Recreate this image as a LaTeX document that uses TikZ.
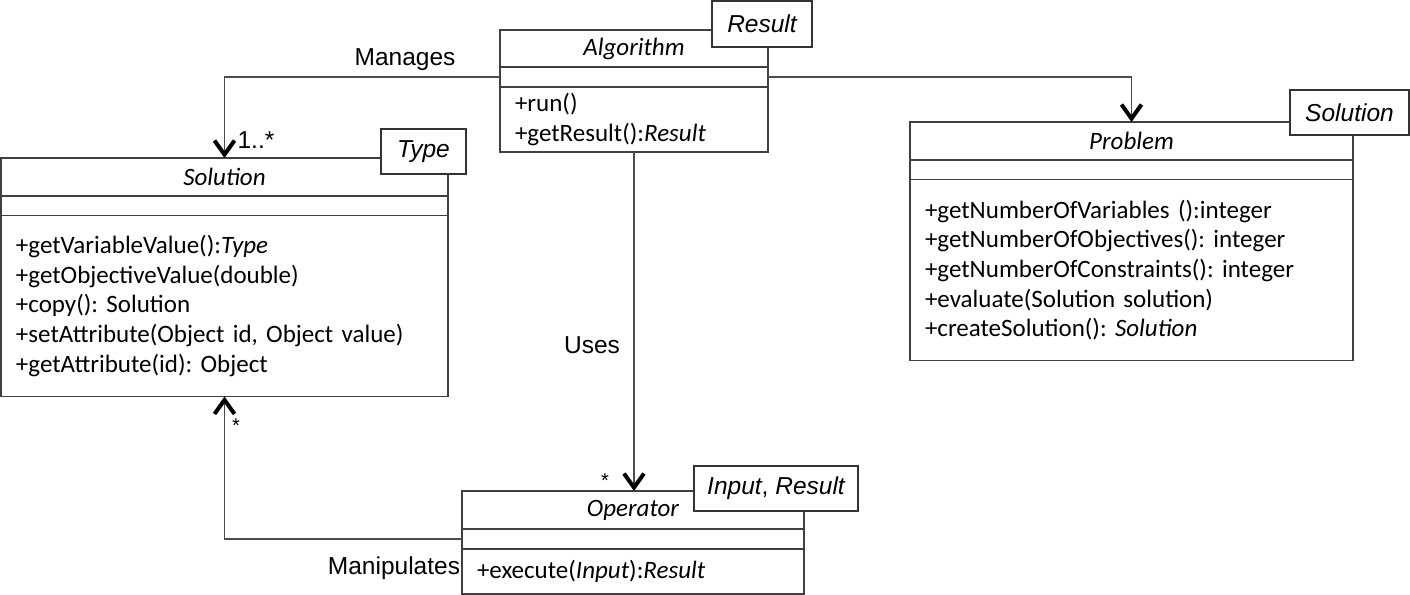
\documentclass[tikz,border=0pt]{standalone}
\usepackage{fontspec}
\setmainfont{Carlito}
\newfontfamily\lsans{Liberation Sans}
\usetikzlibrary{positioning,arrows.meta}
\frenchspacing
\tikzset{
    cname/.style={draw=black!75, line width=0.75pt, inner sep=0pt, outer sep=0pt,
        minimum height=19pt, font=\fontsize{12.5}{14}\selectfont\itshape},
    catt/.style={draw=black!75, line width=0.75pt, inner sep=0pt, outer sep=0pt,
        minimum height=9.75pt},
    cops/.style={draw=black!75, line width=0.75pt, inner xsep=7.5pt, inner ysep=0pt,
        outer sep=0pt, align=left, font=\fontsize{12.5}{14.8}\selectfont},
    tmpl/.style={draw=black!80, fill=white, line width=0.75pt, inner sep=0pt,
        minimum height=22.5pt, font=\lsans\fontsize{12.25}{14}\selectfont\itshape},
    lbl/.style={inner sep=0pt, font=\lsans\fontsize{12.25}{14}\selectfont},
    assoc/.style={draw=black!70, line width=0.6pt,
        -{Straight Barb[length=7pt,width=10pt,line width=2pt,color=black]}}
}
\begin{document}
\begin{tikzpicture}[x=0.5pt,y=-0.5pt]
    \useasboundingbox (0,0) rectangle (1410,595);
    % Solution
    \node[cname, minimum width=223.5pt] (solname) at (224.5,177) {Solution};
    \node[catt, minimum width=223.5pt, below=0pt of solname] (solatt) {};
    \node[cops, text width=208.5pt, minimum height=90.5pt, below=0pt of solatt] (solops)
        {+getVariableValue():\textit{Type}\\
         +getObjectiveValue(double)\\
         +copy(): Solution\\
         +setAttribute(Object id, Object value)\\
         +getAttribute(id): Object};
    % Algorithm
    \node[cname, minimum width=134pt, minimum height=18.5pt] (algname) at (634,48.5) {Algorithm};
    \node[catt, minimum width=134pt, minimum height=10pt, below=0pt of algname] (algatt) {};
    \node[cops, text width=119pt, minimum height=32.5pt, below=0pt of algatt] (algops)
        {+run()\\
         +getResult():\textit{Result}};
    % Problem
    \node[cname, minimum width=221.5pt] (probname) at (1131.5,141) {Problem};
    \node[catt, minimum width=221.5pt, below=0pt of probname] (probatt) {};
    \node[cops, text width=206.5pt, minimum height=90.5pt, below=0pt of probatt] (probops)
        {+getNumberOfVariables ():integer\\
         +getNumberOfObjectives(): integer\\
         +getNumberOfConstraints(): integer\\
         +evaluate(Solution solution)\\
         +createSolution(): \textit{Solution}};
    % Operator
    \node[cname, minimum width=171pt] (opname) at (633,510) {Operator};
    \node[catt, minimum width=171pt, minimum height=10pt, below=0pt of opname] (opatt) {};
    \node[cops, text width=156pt, minimum height=22.5pt, below=0pt of opatt] (opops)
        {+execute(\textit{Input}):\textit{Result}};

    % associations
    \draw[assoc] (algatt.west) -| (solname.north);
    \draw[assoc] (algatt.east) -| (probname.north);
    \draw[assoc] (algops.south) -- (algops.south |- opname.north);
    \draw[assoc] (opatt.west) -| (solops.south);
    \node[lbl] (manages) at (405,60) {Manages};
    \node[lbl] (solmult) at (256,140) {1..*};
    \node[lbl] (uses) at (592,345) {Uses};
    \node[lbl, font=\lsans\fontsize{10}{11}\selectfont] (opmult) at (605,481) {*};
    \node[lbl, font=\lsans\fontsize{10}{11}\selectfont] (manmult) at (236,426) {*};
    \node[lbl] (manipulates) at (394,568) {Manipulates};

    % template parameters
    \node[tmpl, minimum width=50pt, minimum height=23pt] (algtmpl) at (762,24) {Result};
    \node[tmpl, minimum width=42.5pt] (soltmpl) at (423.5,151.5) {Type};
    \node[tmpl, minimum width=59.5pt] (probtmpl) at (1349.5,112.5) {Solution};
    \node[tmpl, minimum width=82pt] (optmpl) at (776,488.5) {Input\upshape, \itshape Result};
\end{tikzpicture}
\end{document}
